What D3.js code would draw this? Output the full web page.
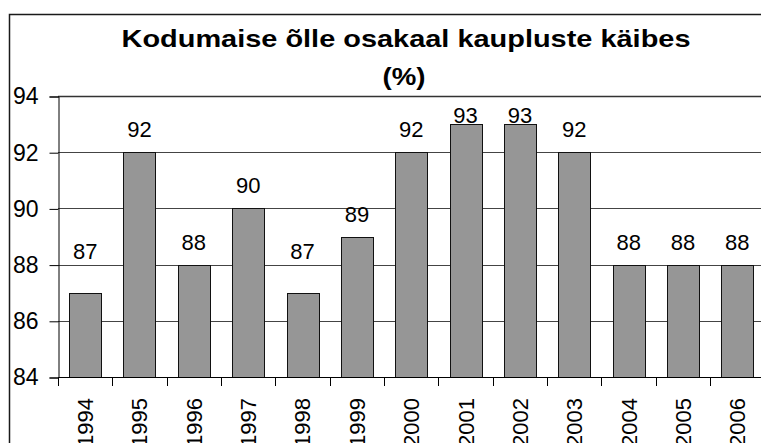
<!DOCTYPE html>
<html>
<head>
<meta charset="utf-8">
<script src="https://cdn.jsdelivr.net/npm/d3@7"></script>
<style>
  body { margin: 0; background: #fff; }
  text { font-family: "Liberation Sans", Arial, sans-serif; }
</style>
</head>
<body>
<div id="chart"></div>
<script>
// data
let years = ["1994", "1995", "1996", "1997", "1998", "1999", "2000",
             "2001", "2002", "2003", "2004", "2005", "2006"];
let shares = [87, 92, 88, 90, 87, 89, 92, 93, 93, 92, 88, 88, 88];
let yTicks = [84, 86, 88, 90, 92, 94];
let titleLines = ["Kodumaise õlle osakaal kaupluste käibes", "(%)"];

let width = 761, height = 443;
let plot = { left: 58, right: 764.5, top: 96, bottom: 377 };

let svg = d3.select("#chart")
    .append("svg")
    .attr("width", width)
    .attr("height", height);

// outer chart frame (runs off the right and bottom)
svg.append("rect")
    .attr("x", 9.5).attr("y", 14.5)
    .attr("width", 800).attr("height", 500)
    .attr("fill", "#fff")
    .attr("stroke", "#1a1a1a")
    .attr("stroke-width", 1.5);

let x = d3.scaleBand()
    .domain(years)
    .range([plot.left, plot.right])
    .paddingInner(0.41)
    .paddingOuter(0.205);

let y = d3.scaleLinear()
    .domain([84, 94])
    .range([plot.bottom, plot.top]);

// gridlines
svg.append("g")
    .selectAll("line")
    .data(yTicks)
    .enter()
    .append("line")
    .attr("x1", plot.left).attr("x2", plot.right)
    .attr("y1", d => Math.round(y(d)) + 0.5)
    .attr("y2", d => Math.round(y(d)) + 0.5)
    .attr("stroke", d => d == 94 ? "#333" : "#444")
    .attr("stroke-width", d => d == 94 ? 1.5 : 1);

// bars
svg.append("g")
    .selectAll("rect")
    .data(shares)
    .enter()
    .append("rect")
    .attr("x", (d, i) => Math.round(x(years[i])) + 0.5)
    .attr("y", d => Math.round(y(d)) + 0.5)
    .attr("width", Math.round(x.bandwidth()))
    .attr("height", d => Math.round(y(84)) - Math.round(y(d)))
    .attr("fill", "#969696")
    .attr("stroke", "#111")
    .attr("stroke-width", 1);

// y axis
let yAxis = svg.append("g")
    .attr("transform", `translate(${plot.left + 0.5}, 0.5)`)
    .call(d3.axisLeft(y).tickValues(yTicks).tickSize(9).tickPadding(11).tickFormat(d3.format("d")));
yAxis.select(".domain").attr("stroke", "#000");
yAxis.selectAll(".tick line").attr("stroke", "#000");
yAxis.selectAll("text")
    .style("font-size", "23px")
    .attr("fill", "#000")
    .attr("font-family", "Liberation Sans, Arial, sans-serif");

// x axis: ticks on category boundaries
let xAxisG = svg.append("g");
xAxisG.append("line")
    .attr("x1", plot.left).attr("x2", plot.right)
    .attr("y1", Math.round(y(84)) + 0.5).attr("y2", Math.round(y(84)) + 0.5)
    .attr("stroke", "#000");
xAxisG.selectAll(".sep")
    .data(years.concat(["end"]))
    .enter()
    .append("line")
    .attr("class", "sep")
    .attr("x1", (d, i) => Math.round(plot.left + i * x.step()) + 0.5)
    .attr("x2", (d, i) => Math.round(plot.left + i * x.step()) + 0.5)
    .attr("y1", Math.round(y(84)))
    .attr("y2", Math.round(y(84)) + 9)
    .attr("stroke", "#000");
xAxisG.selectAll(".lbl")
    .data(years)
    .enter()
    .append("text")
    .attr("class", "lbl")
    .attr("transform", d => `translate(${x(d) + x.bandwidth() / 2}, 398) rotate(-90)`)
    .attr("dy", "0.36em")
    .style("text-anchor", "end")
    .style("font-size", "22px")
    .text(d => d);

// value labels; kept inside the plot and off the 88 gridline like the original
svg.append("g")
    .selectAll("text")
    .data(shares)
    .enter()
    .append("text")
    .attr("x", (d, i) => x(years[i]) + x.bandwidth() / 2)
    .attr("y", d => Math.max(123, Math.min(y(d) - 15, y(88) - 6)))
    .style("text-anchor", "middle")
    .style("font-size", "22px")
    .text(d => d);

// title (the original is stretched sideways)
let title = svg.append("g");
title.append("text")
    .attr("x", 406).attr("y", 47)
    .style("text-anchor", "middle")
    .style("font-size", "24px")
    .style("font-weight", "bold")
    .attr("textLength", 569)
    .attr("lengthAdjust", "spacingAndGlyphs")
    .text(titleLines[0]);
title.append("text")
    .attr("x", 404).attr("y", 85)
    .style("text-anchor", "middle")
    .style("font-size", "24px")
    .style("font-weight", "bold")
    .attr("textLength", 43)
    .attr("lengthAdjust", "spacingAndGlyphs")
    .text(titleLines[1]);
</script>
</body>
</html>
